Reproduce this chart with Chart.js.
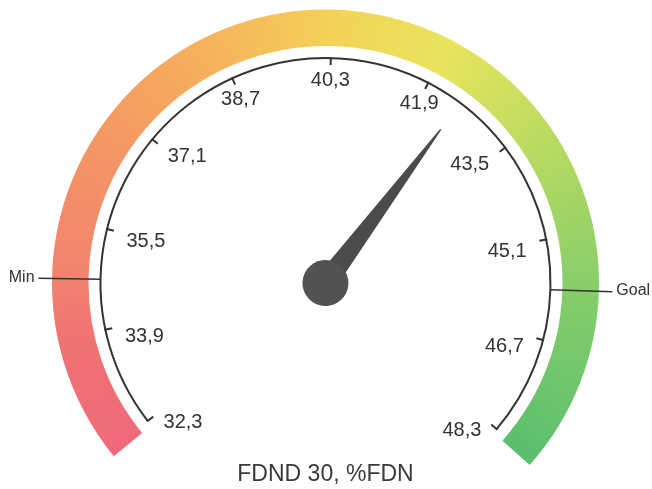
<!DOCTYPE html>
<html>
  <head>
    <script src="https://cdn.jsdelivr.net/npm/chart.js@4"></script>
    <style>
      body { margin: 0; background: #fff; }
    </style>
  </head>
  <body>
    <div style="width: 652px; height: 489px">
      <canvas id="canvas"></canvas>
    </div>
    <script>
      const tickValues = [32.3, 33.9, 35.5, 37.1, 38.7, 40.3, 41.9, 43.5, 45.1, 46.7, 48.3];
      const tickLabels = ['32,3', '33,9', '35,5', '37,1', '38,7', '40,3', '41,9', '43,5', '45,1', '46,7', '48,3'];
      const needleValue = [42.5];
      const markerNames = ['Min', 'Goal'];
      const markerValues = [34.7, 45.9];
      const titleText = 'FDND 30, %FDN';

      // colour band, red -> yellow -> green along the arc
      const bandColors = ['#ef697b', '#f07373', '#f2836e', '#f59c62', '#f6b45b', '#f3d257', '#e9e55d', '#bfdc60', '#85cd6a', '#5bbf6e'];
      const bandStops = [0, 0.1, 0.16, 0.3, 0.4, 0.5, 0.6, 0.7, 0.85, 1];

      const scaleMin = tickValues[0];
      const scaleMax = tickValues[tickValues.length - 1];
      const SCALE_SWEEP = 258.3;
      const SCALE_TILT = 1.35; // the scan is turned a little
      const SCALE_R = 225;
      const BAND_ROT = -129.3;
      const BAND_SWEEP = 261;
      const DEG = Math.PI / 180;

      // angle from 12 o'clock, clockwise, radians
      function valueAngle(v) {
        return (SCALE_TILT + ((v - scaleMin) / (scaleMax - scaleMin) - 0.5) * SCALE_SWEEP) * DEG;
      }

      function bandGradient(context) {
        const chart = context.chart;
        const area = chart.chartArea;
        if (!area) return bandColors[0];
        const meta = chart.getDatasetMeta(0);
        const cx = (area.left + area.right) / 2 + (meta.controller.offsetX || 0);
        const cy = (area.top + area.bottom) / 2 + (meta.controller.offsetY || 0);
        const g = chart.ctx.createConicGradient((BAND_ROT - 90) * DEG, cx, cy);
        bandColors.forEach((c, i) => g.addColorStop(bandStops[i] * BAND_SWEEP / 360, c));
        g.addColorStop(1, bandColors[bandColors.length - 1]);
        return g;
      }

      const gaugePlugin = {
        id: 'gauge',
        afterDatasetsDraw(chart) {
          const arc = chart.getDatasetMeta(0).data[0];
          const cx = arc.x;
          const cy = arc.y;
          const ctx = chart.ctx;
          const pt = (a, r) => [cx + r * Math.sin(a), cy - r * Math.cos(a)];
          ctx.save();
          ctx.strokeStyle = '#333';
          ctx.fillStyle = '#333';

          // scale line
          ctx.lineWidth = 2;
          ctx.beginPath();
          ctx.arc(cx, cy, SCALE_R, valueAngle(scaleMin) - Math.PI / 2, valueAngle(scaleMax) - Math.PI / 2);
          ctx.stroke();

          // ticks and labels
          ctx.font = '20px "Liberation Sans", Arial, sans-serif';
          ctx.textBaseline = 'middle';
          tickValues.forEach((v, i) => {
            const a = valueAngle(v);
            const p1 = pt(a, SCALE_R + 1);
            const p2 = pt(a, SCALE_R - 7);
            ctx.beginPath();
            ctx.moveTo(p1[0], p1[1]);
            ctx.lineTo(p2[0], p2[1]);
            ctx.stroke();
            const d = a / DEG;
            ctx.textAlign = Math.abs(d) < 35 ? 'center' : d > 0 ? 'right' : 'left';
            ctx.fillText(tickLabels[i], cx + 205 * Math.sin(a), cy + 9.5 - 212.5 * Math.cos(a));
          });

          // min / goal markers
          ctx.lineWidth = 1.5;
          ctx.font = '16px "Liberation Sans", Arial, sans-serif';
          markerValues.forEach((v, i) => {
            const a = valueAngle(v);
            const p1 = pt(a, SCALE_R);
            const p2 = pt(a, 287);
            ctx.beginPath();
            ctx.moveTo(p1[0], p1[1]);
            ctx.lineTo(p2[0], p2[1]);
            ctx.stroke();
            const p3 = pt(a, 291);
            ctx.textAlign = a < 0 ? 'right' : 'left';
            ctx.fillText(markerNames[i], p3[0], p3[1] - 1);
          });

          // needle
          ctx.translate(cx, cy);
          ctx.rotate(valueAngle(needleValue[0]));
          ctx.fillStyle = '#4b4b4b';
          ctx.beginPath();
          ctx.moveTo(-11, 0);
          ctx.lineTo(-0.8, -192);
          ctx.lineTo(0.8, -192);
          ctx.lineTo(11, 0);
          ctx.closePath();
          ctx.fill();
          ctx.fillStyle = '#525252';
          ctx.beginPath();
          ctx.arc(0, 0, 23, 0, Math.PI * 2);
          ctx.fill();
          ctx.restore();
        },
      };

      new Chart(document.getElementById('canvas').getContext('2d'), {
        type: 'doughnut',
        data: {
          labels: ['range'],
          datasets: [
            {
              data: [scaleMax - scaleMin],
              backgroundColor: bandGradient,
              borderWidth: 0,
            },
          ],
        },
        options: {
          responsive: true,
          maintainAspectRatio: false,
          animation: false,
          events: [],
          rotation: BAND_ROT,
          circumference: BAND_SWEEP,
          radius: 273.5,
          cutout: '86.65%',
          layout: { padding: { top: 19, right: 1, bottom: 0, left: 0 } },
          plugins: {
            legend: { display: false },
            tooltip: { enabled: false },
            title: {
              display: true,
              text: titleText,
              position: 'bottom',
              color: '#3a3a3a',
              font: { family: '"Liberation Sans", Arial, sans-serif', size: 23, weight: 'normal' },
              padding: { top: 5, bottom: 1 },
            },
          },
        },
        plugins: [gaugePlugin],
      });
    </script>
  </body>
</html>
